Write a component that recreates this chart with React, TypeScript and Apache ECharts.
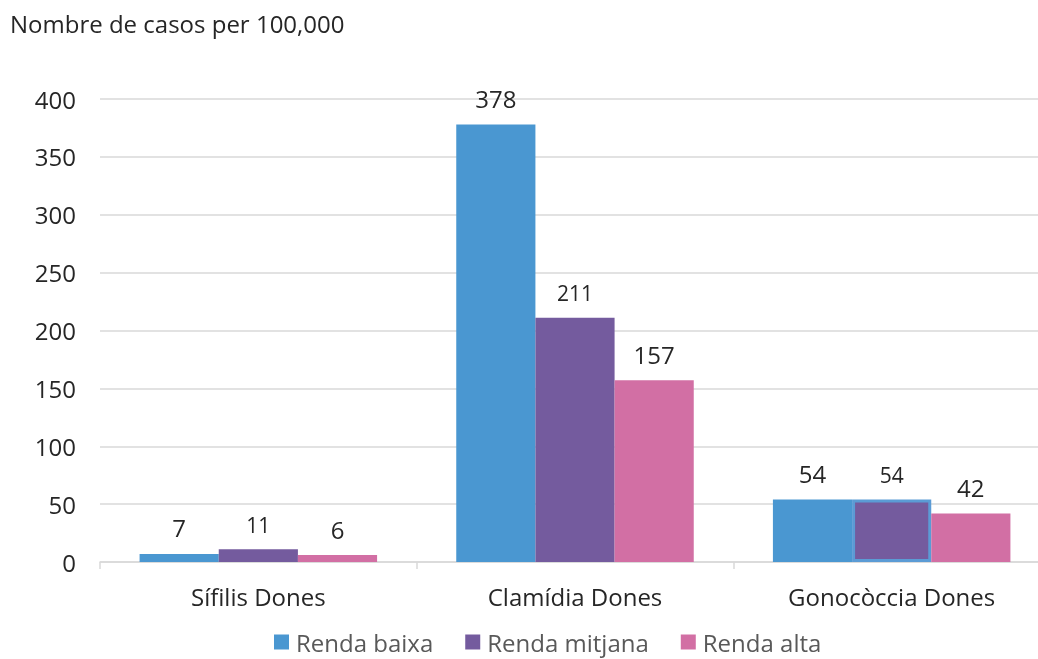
import React, { useEffect, useRef } from "react";
import * as echarts from "echarts";

const categories = ["Sífilis Dones", "Clamídia Dones", "Gonocòccia Dones"];
const seriesNames = ["Renda baixa", "Renda mitjana", "Renda alta"];
const rendaBaixa = [7, 378, 54];
const rendaMitjana = [11, 211, 54];
const rendaAlta = [6, 157, 42];
const yTicks = [0, 50, 100, 150, 200, 250, 300, 350, 400];
const colors = ["#4a97d1", "#745b9e", "#d26fa4"];
const FONT = "'Open Sans', 'Noto Sans', sans-serif";

export default function App() {
  const ref = useRef<HTMLDivElement>(null);
  useEffect(() => {
    if (!ref.current) return;
    const chart = echarts.init(ref.current, null, { renderer: "svg" });
    const values = [rendaBaixa, rendaMitjana, rendaAlta];
    chart.setOption({
      animation: false,
      textStyle: { fontFamily: FONT },
      title: {
        text: "Nombre de casos per 100,000",
        left: 5,
        top: 6,
        textStyle: { fontFamily: FONT, fontSize: 24, fontWeight: "normal", color: "#262626" },
      },
      legend: {
        bottom: 4,
        left: 274,
        padding: 0,
        itemWidth: 15,
        itemHeight: 15,
        itemGap: 32,
        icon: "rect",
        data: seriesNames,
        textStyle: {
          fontFamily: FONT,
          fontSize: 24,
          lineHeight: 26,
          color: "#595959",
          padding: [0, 0, 0, 2],
        },
      },
      grid: { left: 100, right: 0, top: 99, bottom: 97 },
      xAxis: {
        type: "category",
        data: categories,
        axisLine: { lineStyle: { color: "#d9d9d9", width: 1.5 } },
        axisTick: { show: true, length: 7, lineStyle: { color: "#d9d9d9", width: 1.5 } },
        axisLabel: { fontFamily: FONT, fontSize: 24, color: "#262626", margin: 22 },
      },
      yAxis: {
        type: "value",
        min: yTicks[0],
        max: yTicks[yTicks.length - 1],
        interval: 50,
        axisLine: { show: false },
        axisTick: { show: false },
        splitLine: { lineStyle: { color: "#d9d9d9", width: 1.5 } },
        axisLabel: { fontFamily: FONT, fontSize: 24, color: "#262626", margin: 24 },
      },
      series: values.map((vals, si) => ({
        name: seriesNames[si],
        type: "bar",
        barGap: "0%",
        barCategoryGap: "25%",
        itemStyle: { color: colors[si] },
        label: {
          show: true,
          position: "top",
          distance: 14,
          fontFamily: FONT,
          fontSize: si === 1 ? 21 : 24,
          color: "#262626",
        },
        data: vals.map((v, i) =>
          si === 1 && i === 2
            ? { value: v, itemStyle: { color: colors[si], borderColor: "#5b9bd5", borderWidth: 3 } }
            : v
        ),
      })),
    });
    return () => chart.dispose();
  }, []);
  return (
    <div
      ref={ref}
      style={{ position: "fixed", left: 0, top: 0, width: 1050, height: 659 }}
    />
  );
}
